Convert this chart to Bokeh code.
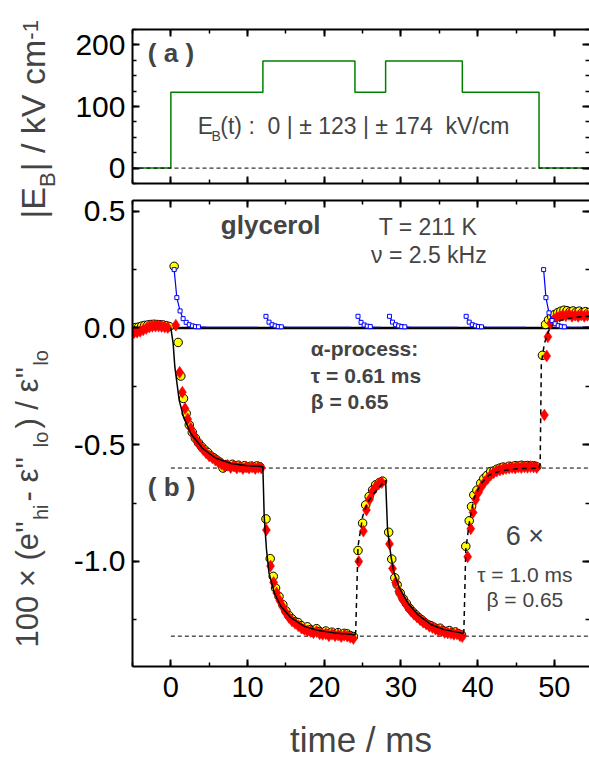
import numpy as np
from bokeh.plotting import figure
from bokeh.layouts import row, column
from bokeh.models import (Label, LinearAxis, Range1d, SingleIntervalTicker, Span,
                          CustomJSTickFormatter)
from bokeh.embed import file_html
from bokeh.resources import INLINE

FONT = "Liberation Sans"

# ---- panel (a): applied field protocol ----
field_t = [-5, 0, 12, 24, 28, 38, 48, 55]
field_kv = [0, 123, 174, 123, 174, 123, 0, 0]

# ---- panel (b): relative change of the loss ----
circ_t = [-4.6, -4.2, -3.8, -3.4, -3.0, -2.6, -2.2, -1.8, -1.4, -1.0, -0.6, -0.2,
          0.43,
          0.95, 1.30, 1.65, 2.0, 2.4, 2.8, 3.2, 3.6, 4.0, 4.4, 4.8, 5.2, 5.6, 6.0, 6.4, 6.8,
          7.2, 7.6, 8.0, 8.4, 8.8, 9.2, 9.6, 10.0, 10.4, 10.8, 11.2, 11.6,
          12.4, 12.95, 13.35, 13.65, 14.1, 14.6, 15.0, 15.4, 15.8, 16.2, 16.6, 17.0, 17.4,
          17.8, 18.2, 18.6, 19.0, 19.4, 19.8, 20.2, 20.6, 21.0, 21.4, 21.8, 22.2, 22.6, 23.0,
          23.4, 23.8,
          24.4, 25.0, 25.4, 25.85, 26.3, 26.7, 27.2, 27.6,
          28.4, 28.8, 29.2, 29.5, 29.9, 30.3, 30.7, 31.1, 31.5, 31.9, 32.3, 32.7, 33.1, 33.5,
          33.9, 34.3, 34.7, 35.1, 35.5, 35.9, 36.3, 36.7, 37.1, 37.5, 37.9,
          38.45, 38.9, 39.2, 39.5, 39.9, 40.4, 40.8, 41.2, 41.7, 42.1, 42.5, 42.9, 43.3, 43.7,
          44.1, 44.5, 44.9, 45.3, 45.7, 46.1, 46.5, 46.9, 47.3, 47.7,
          48.45, 48.85, 49.25, 49.65, 50.05, 50.45, 50.85, 51.25, 51.65, 52.05, 52.45, 52.85,
          53.25, 53.65, 54.05, 54.45]
circ_v = [0.002, 0.004, 0.008, 0.011, 0.013, 0.015, 0.016, 0.015, 0.014, 0.013, 0.010, 0.006,
          0.264,
          -0.062, -0.206, -0.302, -0.366, -0.415, -0.447, -0.472, -0.492, -0.508, -0.522, -0.533,
          -0.548, -0.556, -0.566, -0.575, -0.600, -0.585, -0.590, -0.584, -0.595, -0.588, -0.597,
          -0.590, -0.598, -0.592, -0.596, -0.591, -0.595,
          -0.818, -0.988, -1.064, -1.114, -1.150, -1.185, -1.212, -1.232, -1.246, -1.258, -1.262,
          -1.275, -1.290, -1.280, -1.292, -1.296, -1.288, -1.300, -1.305, -1.298, -1.310, -1.303,
          -1.312, -1.305, -1.316, -1.308, -1.310, -1.318, -1.322,
          -0.953, -0.836, -0.758, -0.722, -0.694, -0.672, -0.662, -0.656,
          -0.875, -0.990, -1.070, -1.100, -1.135, -1.160, -1.180, -1.200, -1.215, -1.228, -1.240,
          -1.250, -1.262, -1.270, -1.275, -1.282, -1.290, -1.286, -1.297, -1.300, -1.296, -1.305,
          -1.302, -1.310, -1.315,
          -0.935, -0.826, -0.765, -0.715, -0.695, -0.665, -0.645, -0.632, -0.615, -0.612, -0.605,
          -0.600, -0.596, -0.598, -0.592, -0.594, -0.590, -0.592, -0.588, -0.591, -0.589, -0.592,
          -0.590, -0.594,
          -0.117, 0.015, 0.035, 0.048, 0.058, 0.066, 0.072, 0.076, 0.074, 0.070, 0.073, 0.068,
          0.072, 0.066, 0.070, 0.066]

diam_t = [-4.8, -4.4, -4.0, -3.6, -3.2, -2.8, -2.4, -2.0, -1.6, -1.2, -0.8, -0.4, 0.65,
          1.15, 1.5, 1.85, 2.2, 2.6, 3.0, 3.4, 3.8, 4.2, 4.6, 5.0, 5.4, 5.8, 6.2, 6.6, 7.0, 7.4,
          7.8, 8.2, 8.6, 9.0, 9.4, 9.8, 10.2, 10.6, 11.0, 11.4, 11.8,
          12.45, 13.0, 13.4, 13.8, 14.2, 14.6, 15.0, 15.4, 15.8, 16.2, 16.6, 17.0, 17.4, 17.8,
          18.2, 18.6, 19.0, 19.4, 19.8, 20.2, 20.6, 21.0, 21.4, 21.8, 22.2, 22.6, 23.0, 23.4, 23.8,
          24.5, 25.1, 25.5, 25.9, 26.3, 26.7, 27.1, 27.5,
          28.5, 28.9, 29.3, 29.7, 30.1, 30.5, 30.9, 31.3, 31.7, 32.1, 32.5, 32.9, 33.3, 33.7,
          34.1, 34.5, 34.9, 35.3, 35.7, 36.1, 36.5, 36.9, 37.3, 37.7, 38.0,
          38.7, 39.1, 39.4, 39.75, 40.1, 40.5, 40.9, 41.3, 41.7, 42.1, 42.5, 42.9, 43.3, 43.7,
          44.1, 44.5, 44.9, 45.3, 45.7, 46.1, 46.5, 46.9, 47.3, 47.7,
          48.7, 49.0, 49.15, 49.5, 49.9, 50.3, 50.7, 51.1, 51.5, 51.9, 52.3, 52.7, 53.1, 53.5,
          53.9, 54.3]
diam_v = [-0.020, -0.018, -0.014, -0.008, -0.002, 0.004, 0.007, 0.008, 0.008, 0.006, 0.004,
          0.002, 0.012,
          -0.190, -0.275, -0.345, -0.390, -0.430, -0.460, -0.485, -0.505, -0.520, -0.535, -0.548,
          -0.556, -0.566, -0.575, -0.583, -0.592, -0.588, -0.598, -0.590, -0.600, -0.594, -0.602,
          -0.595, -0.600, -0.596, -0.602, -0.597, -0.600,
          -0.865, -1.020, -1.090, -1.135, -1.168, -1.195, -1.220, -1.240, -1.255, -1.265, -1.275,
          -1.285, -1.290, -1.298, -1.300, -1.305, -1.300, -1.310, -1.312, -1.310, -1.318, -1.312,
          -1.318, -1.315, -1.322, -1.316, -1.320, -1.325, -1.330,
          -1.000, -0.870, -0.780, -0.735, -0.700, -0.680, -0.668, -0.662,
          -0.925, -1.030, -1.090, -1.128, -1.155, -1.175, -1.195, -1.212, -1.226, -1.238, -1.250,
          -1.260, -1.268, -1.278, -1.283, -1.290, -1.296, -1.298, -1.304, -1.306, -1.308, -1.312,
          -1.310, -1.318, -1.322,
          -0.980, -0.860, -0.790, -0.735, -0.705, -0.680, -0.660, -0.645, -0.630, -0.620, -0.613,
          -0.608, -0.605, -0.602, -0.600, -0.598, -0.600, -0.596, -0.598, -0.595, -0.597, -0.594,
          -0.596, -0.598,
          -0.373, -0.120, -0.038, 0.020, 0.035, 0.045, 0.050, 0.055, 0.052, 0.058, 0.050, 0.055,
          0.050, 0.056, 0.050, 0.054]

# stretched-exponential fits: field increases (solid) and decreases (dashed)
fit_up_t = [[0.0, 0.3, 0.52, 1.09, 1.65, 2.6, 4.13, 5.87, 7.82, 9.99, 11.73, 12.0,
             12.0, 12.17, 12.47, 12.8, 13.5, 14.3, 15.6, 17.4, 19.1, 21.3, 23.7, 24.0],
            [28.0, 28.25, 28.7, 29.1, 29.8, 30.9, 32.2, 33.9, 35.6, 37.8, 38.1]]
fit_up_v = [[0.0, -0.067, -0.167, -0.31, -0.381, -0.452, -0.516, -0.558, -0.58, -0.59, -0.593,
             -0.594, -0.6, -0.808, -0.95, -1.05, -1.135, -1.19, -1.24, -1.278, -1.295, -1.306,
             -1.313, -1.315],
            [-0.651, -0.865, -0.978, -1.05, -1.114, -1.178, -1.228, -1.27, -1.292, -1.306, -1.31]]
fit_dn_t = [[24.0, 24.1, 24.4, 25.0, 25.6, 26.5, 27.8, 28.0],
            [38.1, 38.2, 38.45, 38.9, 39.5, 40.4, 41.5, 43.0, 45.0, 47.9, 48.0],
            [48.0, 48.15, 48.3, 48.7, 49.1, 49.5, 50.5, 51.7, 53.0, 54.6]]
fit_dn_v = [[-1.315, -1.3, -0.936, -0.808, -0.75, -0.708, -0.658, -0.651],
            [-1.31, -1.3, -0.95, -0.835, -0.73, -0.668, -0.63, -0.612, -0.603, -0.6, -0.6],
            [-0.6, -0.58, -0.15, -0.067, -0.024, 0.004, 0.03, 0.04, 0.047, 0.05]]

# transient after each field step
tr_t = [[0.43, 0.78, 1.2, 1.6, 2.0, 2.4, 2.8, 3.2, 3.6, 4.0, 4.4, 4.8, 5.2, 5.6, 6.0, 6.4,
         6.8, 7.2, 7.6, 8.0, 8.4, 8.8, 9.2, 9.6, 10.0, 10.4, 10.8, 11.3],
        [12.4, 12.8, 13.2, 13.6, 14.0, 14.4, 14.8, 15.2, 15.6, 16.0, 16.4, 16.8, 17.2, 17.6,
         18.0, 18.4, 18.8, 19.2, 19.6, 20.0, 20.4, 20.8, 21.2, 21.6, 22.0, 22.4, 22.8, 23.5],
        [24.4, 24.8, 25.2, 25.6, 26.0, 26.4, 26.8, 27.4],
        [28.5, 28.9, 29.3, 29.7, 30.1, 30.5, 30.9, 31.3, 31.7, 32.1, 32.5, 32.9, 33.3, 33.7,
         34.1, 34.5, 34.9, 35.3, 35.7, 36.1, 36.5, 36.9, 37.4],
        [38.5, 38.9, 39.3, 39.7, 40.1, 40.5, 40.9, 41.3, 41.7, 42.1, 42.5, 42.9, 43.3, 43.7,
         44.1, 44.5, 44.9, 45.3, 45.7, 46.3],
        [48.6, 48.9, 49.3, 49.7, 50.1, 50.5, 50.9, 51.3, 51.7, 52.1, 52.5, 52.9, 53.3, 53.7,
         54.1, 54.5]]
tr_v = [[0.25, 0.13, 0.073, 0.04, 0.024, 0.014, 0.009, 0.006, 0.005, 0.004, 0.004, 0.003,
         0.003, 0.003, 0.003, 0.003, 0.003, 0.003, 0.003, 0.003, 0.003, 0.003, 0.003, 0.003,
         0.003, 0.003, 0.003, 0.003],
        [0.05, 0.025, 0.014, 0.009, 0.006, 0.005, 0.004, 0.003, 0.003, 0.003, 0.003, 0.003,
         0.003, 0.003, 0.003, 0.003, 0.003, 0.003, 0.003, 0.003, 0.003, 0.003, 0.003, 0.003,
         0.003, 0.003, 0.003, 0.003],
        [0.05, 0.024, 0.013, 0.008, 0.006, 0.004, 0.003, 0.003],
        [0.05, 0.025, 0.014, 0.009, 0.006, 0.005, 0.004, 0.003, 0.003, 0.003, 0.003, 0.003,
         0.003, 0.003, 0.003, 0.003, 0.003, 0.003, 0.003, 0.003, 0.003, 0.003, 0.003],
        [0.05, 0.025, 0.014, 0.009, 0.006, 0.005, 0.004, 0.003, 0.003, 0.003, 0.003, 0.003,
         0.003, 0.003, 0.003, 0.003, 0.003, 0.003, 0.003, 0.003],
        [0.25, 0.13, 0.065, 0.032, 0.018, 0.01, 0.007, 0.005, 0.004, 0.003, 0.003, 0.003,
         0.003, 0.003, 0.003, 0.003]]

plateaus = [-0.60, -1.32]

X_START, X_END = -5, 54.58
LABEL_W = 62
W = 589 - LABEL_W
H_TOP = 191
H_BOT = 761 - H_TOP

BLANK = CustomJSTickFormatter(code="return ''")


def frame_axes(p, y_ticker, y_fmt, xlabels=False):
    """Closed frame with inward ticks on all four sides."""
    for side in ("left", "right", "above", "below"):
        if side in ("left", "right"):
            ax = LinearAxis(ticker=y_ticker)
        else:
            ax = LinearAxis(ticker=SingleIntervalTicker(interval=10, num_minor_ticks=2))
        ax.major_tick_in = 7
        ax.major_tick_out = 0
        ax.minor_tick_in = 4
        ax.minor_tick_out = 0
        ax.axis_line_width = 2
        ax.major_tick_line_width = 2
        ax.minor_tick_line_width = 1.5
        ax.axis_line_color = "black"
        ax.major_label_text_font = FONT
        ax.major_label_text_font_size = "29px"
        ax.major_label_text_color = "black"
        if side == "left":
            ax.formatter = y_fmt
            ax.major_label_text_font_size = "30px"
            ax.major_label_standoff = 7
        elif side == "below" and xlabels:
            ax.formatter = CustomJSTickFormatter(code="return tick.toFixed(0)")
            ax.major_label_standoff = 10
        else:
            ax.formatter = BLANK
            ax.major_label_standoff = 0
        if side == "right":
            ax.axis_line_color = None
        p.add_layout(ax, side)
        if side == "below":
            bottom = ax
    return bottom


# ---------- panel (a) ----------
pa = figure(width=W, height=H_TOP, x_range=Range1d(X_START, X_END), y_range=Range1d(-25, 225),
            toolbar_location=None, output_backend="svg", x_axis_location=None,
            y_axis_location=None, min_border_left=70, min_border_right=0,
            min_border_top=29, min_border_bottom=8)
pa.grid.visible = False
pa.outline_line_color = None
frame_axes(pa, SingleIntervalTicker(interval=100, num_minor_ticks=4),
           CustomJSTickFormatter(code="return tick.toFixed(0)"))
pa.step(field_t, field_kv, mode="after", line_color="#008000", line_width=1.5)
pa.add_layout(Span(location=0, dimension="width", line_color="black", line_width=1,
                   line_dash="4 3"))

pa.add_layout(Label(x=-3.0, y=163, text="( a )", text_font=FONT, text_font_size="26px",
                    text_font_style="bold"))
pa.add_layout(Label(x=3.52, y=47, text="E", text_font=FONT, text_font_size="23px"))
pa.add_layout(Label(x=5.3, y=39, text="B", text_font=FONT, text_font_size="14px"))
pa.add_layout(Label(x=6.45, y=47,
                    text="(t) :\u00a0\u00a00 | \u00b1 123 | \u00b1 174\u00a0\u00a0kV/cm",
                    text_font=FONT, text_font_size="23px"))

# ---------- panel (b) ----------
pb = figure(width=W, height=H_BOT, x_range=pa.x_range, y_range=Range1d(-1.45, 0.546),
            toolbar_location=None, output_backend="svg", x_axis_location=None,
            y_axis_location=None, min_border_left=70, min_border_right=0,
            min_border_top=9, min_border_bottom=94)
pb.grid.visible = False
pb.outline_line_color = None
xb = frame_axes(pb, SingleIntervalTicker(interval=0.5, num_minor_ticks=2),
                CustomJSTickFormatter(code="return tick.toFixed(1)"), xlabels=True)
xb.axis_label = "time / ms"
xb.axis_label_text_font = FONT
xb.axis_label_text_font_size = "35px"
xb.axis_label_text_font_style = "normal"
xb.axis_label_standoff = 20

pb.segment(x0=[field_t[1]] * len(plateaus), x1=[X_END] * len(plateaus), y0=plateaus,
           y1=plateaus, line_color="black", line_width=1, line_dash="4 3")
pb.add_layout(Span(location=0, dimension="width", line_color="black", line_width=2.5,
                   level="underlay"))

pb.scatter(circ_t, circ_v, marker="circle", size=8.5, fill_color="#ffff00",
           line_color="black", line_width=1)
pb.scatter(diam_t, diam_v, marker="diamond", size=12, fill_color="#ff0000",
           line_color="#ff0000", line_width=0.5)
pb.multi_line(fit_up_t, fit_up_v, line_color="black", line_width=1.5)
pb.multi_line(fit_dn_t, fit_dn_v, line_color="black", line_width=1.5, line_dash="5 4")
pb.multi_line(tr_t, tr_v, line_color="#0000ff", line_width=1.2)
# markers on the decaying part of each transient
sq_t = [t for seg_t, seg_v in zip(tr_t, tr_v) for t, v in zip(seg_t, seg_v) if v > 0.004]
sq_v = [v for seg_v in tr_v for v in seg_v if v > 0.004]
pb.scatter(sq_t, sq_v, marker="square", size=4, fill_color="white", line_color="#0000ff",
           line_width=1)

def blabel(x, y, text, size, bold=False, align="left"):
    pb.add_layout(Label(x=x, y=y, text=text, text_font=FONT, text_font_size=f"{size}px",
                        text_font_style="bold" if bold else "normal", text_align=align))

blabel(6.52, 0.375, "glycerol", 26, bold=True)
blabel(27.1, 0.375, "T = 211 K", 23)
blabel(26.1, 0.255, "\u03bd = 2.5 kHz", 23)
blabel(18.25, -0.138, "\u03b1-process:", 21, bold=True)
blabel(18.25, -0.252, "\u03c4 = 0.61 ms", 21, bold=True)
blabel(18.25, -0.363, "\u03b2 = 0.65", 21, bold=True)
blabel(-3.0, -0.744, "( b )", 26, bold=True)
blabel(46.15, -0.954, "6 \u00d7", 27, align="center")
blabel(46.15, -1.104, "\u03c4 = 1.0 ms", 21, align="center")
blabel(46.15, -1.211, "\u03b2 = 0.65", 21, align="center")

# ---------- rotated y-axis titles ----------
pl = figure(width=LABEL_W, height=761, x_range=Range1d(0, LABEL_W), y_range=Range1d(761, 0),
            toolbar_location=None, output_backend="svg", x_axis_location=None,
            y_axis_location=None, min_border=0)
pl.grid.visible = False
pl.outline_line_color = None

ADV = {" ": .278, "\u00a0": .278, "1": .556, "0": .556, "\u00d7": .584, "(": .333, ")": .333,
       "e": .556, "'": .191, "h": .556, "i": .222, "-": .333, "\u03b5": .45, "l": .222,
       "o": .556, "/": .278, "E": .667, "B": .667, "|": .26, "k": .5, "V": .667, "c": .5,
       "m": .833}


def vtitle(xb0, y0, pieces):
    y = y0
    for text, size, dx, gap in pieces:
        pl.add_layout(Label(x=xb0 + dx, y=y, text=text, angle=np.pi / 2, text_font=FONT,
                            text_font_size=f"{size}px"))
        y -= sum(ADV.get(ch, .556) for ch in text) * size + gap


vtitle(44, 647, [("100 \u00d7 (e''", 31, 0, 1), ("hi", 20, 7, 3), (" - \u03b5''", 31, 0, 1),
                 ("lo", 20, 7, 3), (") / \u03b5''", 31, 0, 1), ("lo", 20, 7, 0)])
vtitle(51, 218, [("|E", 34, 0, 0), ("B", 22, 8, 1), ("| / kV cm", 34, 0, 0),
                 ("-1", 22, -14, 0)])

layout = row(pl, column(pa, pb))
open("out.html", "w").write(file_html(layout, INLINE))
